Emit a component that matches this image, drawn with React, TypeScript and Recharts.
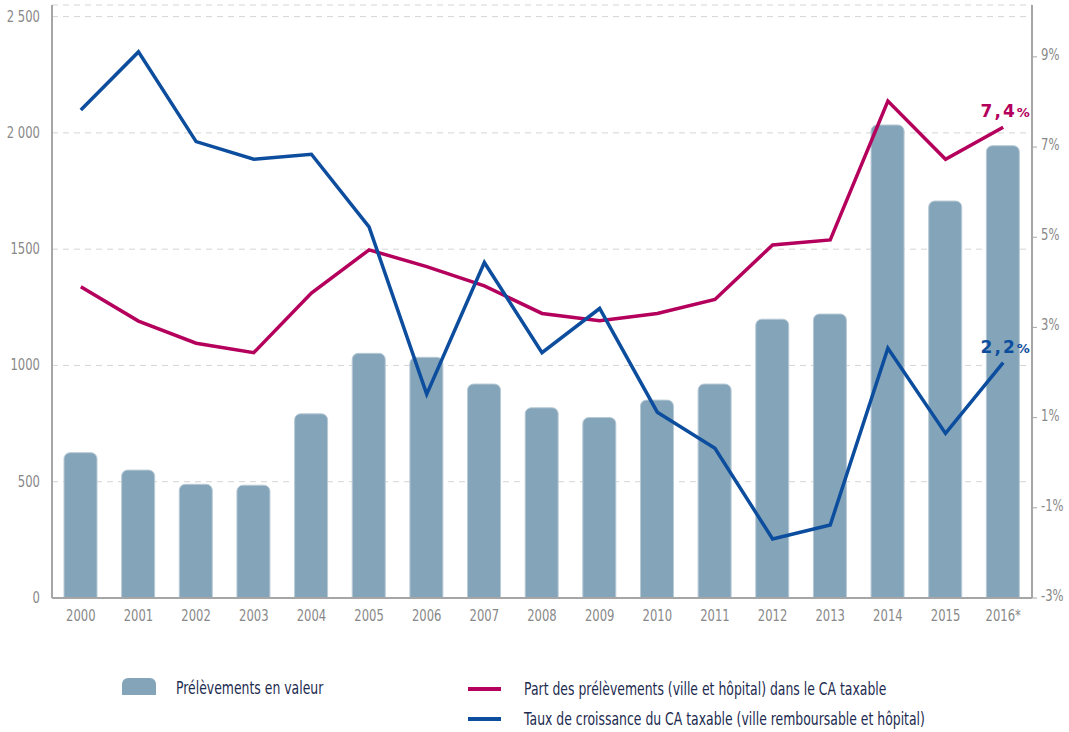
import React from "react";
import {
  ComposedChart,
  Bar,
  Line,
  XAxis,
  YAxis,
  CartesianGrid,
  LabelList,
} from "recharts";

const years = ["2000", "2001", "2002", "2003", "2004", "2005", "2006", "2007", "2008", "2009", "2010", "2011", "2012", "2013", "2014", "2015", "2016*"];
const prelevements = [625, 550, 489, 485, 792, 1052, 1035, 920, 818, 776, 851, 920, 1199, 1221, 2034, 1707, 1945];
const partCA = [3.9, 3.14, 2.65, 2.44, 3.76, 4.72, 4.35, 3.92, 3.31, 3.15, 3.31, 3.62, 4.83, 4.94, 8.02, 6.73, 7.44];
const croissanceCA = [7.82, 9.11, 7.12, 6.73, 6.84, 5.23, 1.52, 4.44, 2.44, 3.42, 1.12, 0.32, -1.69, -1.38, 2.54, 0.65, 2.22];

const leftTicks = [0, 500, 1000, 1500, 2000, 2500];
const leftTickLabels = ["0", "500", "1000", "1500", "2 000", "2 500"];
const rightTicks = [-3, -1, 1, 3, 5, 7, 9];
const rightTickLabels = ["-3%", "-1%", "1%", "3%", "5%", "7%", "9%"];
const endLabels = { part: ["7,4", "%"], croissance: ["2,2", "%"] };

const legendLabels = [
  "Prélèvements en valeur",
  "Part des prélèvements (ville et hôpital) dans le CA taxable",
  "Taux de croissance du CA taxable (ville remboursable et hôpital)",
];

const data = years.map((year, i) => ({
  year,
  valeur: prelevements[i],
  part: partCA[i],
  croissance: croissanceCA[i],
}));

const PINK = "#b4005c";
const BLUE = "#0c4d9e";
const BAR = "#84a5b9";
const AXIS = "#a6a6a6";
const TICK = "#888888";
const NAVY = "#1c2b4f";
const FONT = "'DejaVu Sans', sans-serif";

const lastIndex = years.length - 1;

// the reference uses a condensed face, so squeeze the text horizontally
const NarrowTick = (props: any) => {
  const { x, y, payload, anchor, dx, dy, labels, ticks } = props;
  const i = ticks ? ticks.indexOf(payload.value) : -1;
  const label = i >= 0 ? labels[i] : payload.value;
  return (
    <g transform={`translate(${x + (dx || 0)},${y})`}>
      <text
        transform="scale(0.725,1)"
        textAnchor={anchor}
        dy={dy}
        fill={TICK}
        fontSize={16}
        fontFamily={FONT}
      >
        {label}
      </text>
    </g>
  );
};

// only the final point gets its value written above it
const endLabel = (color: string, parts: string[]) => (props: any) => {
  const { x, y, index } = props;
  if (index !== lastIndex) return null;
  return (
    <text
      x={x + 2}
      y={y - 10}
      textAnchor="middle"
      fill={color}
      fontFamily="'DejaVu Sans', sans-serif"
      fontWeight="bold"
      fontSize={17}
      letterSpacing={2}
    >
      {parts[0]}
      <tspan fontSize={13} letterSpacing={0}>{parts[1]}</tspan>
    </text>
  );
};

const legendText = {
  position: "absolute" as const,
  fontFamily: FONT,
  fontSize: 17.5,
  color: NAVY,
  lineHeight: "20px",
  whiteSpace: "nowrap" as const,
  transform: "scaleX(0.71)",
  transformOrigin: "left center",
};

export default function App() {
  return (
    <div style={{ position: "absolute", left: 0, top: 0, width: 1069, height: 732, background: "#fff" }}>
      <ComposedChart
        width={1069}
        height={640}
        data={data}
        margin={{ top: 5, right: 0, left: 0, bottom: 0 }}
        barCategoryGap={0}
      >
        <CartesianGrid
          yAxisId="left"
          vertical={false}
          strokeDasharray="6 5"
          stroke="#d4d4d4"
        />
        <XAxis
          dataKey="year"
          height={42}
          axisLine={{ stroke: AXIS, strokeWidth: 2 }}
          tickLine={false}
          tick={<NarrowTick anchor="middle" dy={15} />}
          interval={0}
        />
        <YAxis
          yAxisId="left"
          width={52}
          domain={[0, 2550]}
          ticks={leftTicks}
          axisLine={{ stroke: AXIS, strokeWidth: 2 }}
          tickLine={false}
          tick={<NarrowTick anchor="end" dx={-4} dy={5} labels={leftTickLabels} ticks={leftTicks} />}
        />
        <YAxis
          yAxisId="right"
          orientation="right"
          width={37}
          domain={[-3, 10.15]}
          ticks={rightTicks}
          axisLine={{ stroke: AXIS, strokeWidth: 2 }}
          tickLine={{ stroke: AXIS }}
          tickSize={5}
          tick={<NarrowTick anchor="start" dx={2} dy={3} labels={rightTickLabels} ticks={rightTicks} />}
        />
        <Bar
          yAxisId="left"
          dataKey="valeur"
          fill={BAR}
          stroke="#b8cad6"
          strokeWidth={1}
          barSize={33}
          radius={[6, 6, 0, 0]}
          isAnimationActive={false}
        />
        <Line
          yAxisId="right"
          type="linear"
          dataKey="part"
          stroke={PINK}
          strokeWidth={3.5}
          dot={false}
          activeDot={false}
          isAnimationActive={false}
        >
          <LabelList dataKey="part" content={endLabel(PINK, endLabels.part)} />
        </Line>
        <Line
          yAxisId="right"
          type="linear"
          dataKey="croissance"
          stroke={BLUE}
          strokeWidth={3.5}
          dot={false}
          activeDot={false}
          isAnimationActive={false}
        >
          <LabelList dataKey="croissance" content={endLabel(BLUE, endLabels.croissance)} />
        </Line>
      </ComposedChart>

      {/* legend */}
      <div style={{ position: "absolute", left: 122, top: 678, width: 34, height: 17, background: BAR, borderRadius: "6px 6px 0 0" }} />
      <div style={{ ...legendText, left: 176, top: 678 }}>{legendLabels[0]}</div>
      <div style={{ position: "absolute", left: 468, top: 687, width: 33, height: 4, background: PINK }} />
      <div style={{ ...legendText, left: 524, top: 679 }}>{legendLabels[1]}</div>
      <div style={{ position: "absolute", left: 468, top: 717, width: 33, height: 4, background: BLUE }} />
      <div style={{ ...legendText, left: 524, top: 709 }}>{legendLabels[2]}</div>
    </div>
  );
}
